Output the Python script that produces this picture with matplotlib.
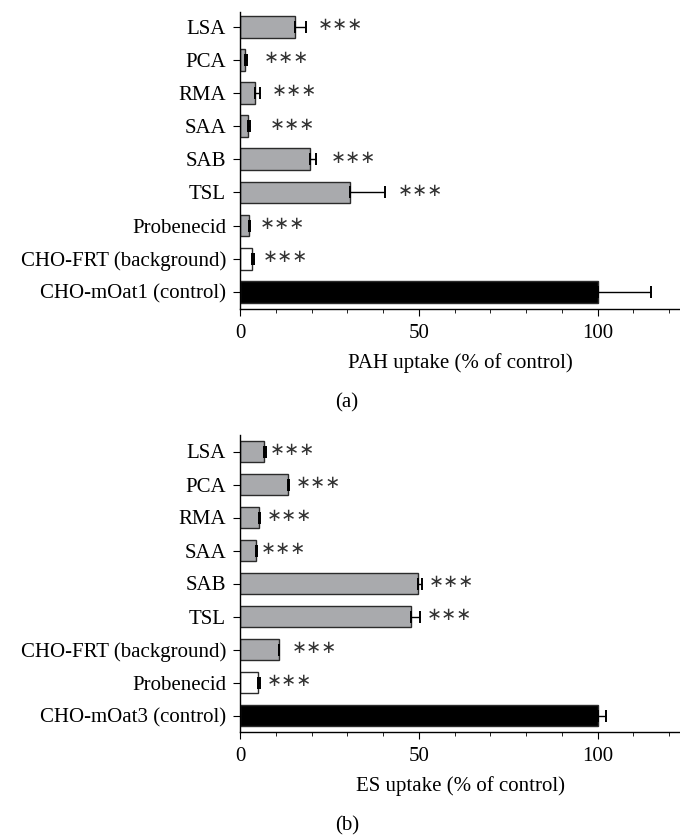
import matplotlib.pyplot as plt
from matplotlib.ticker import MultipleLocator

plt.rcParams['font.family'] = ['Liberation Serif', 'DejaVu Serif']

# panel (a): PAH uptake, mOat1
labels_a = ['LSA', 'PCA', 'RMA', 'SAA', 'SAB', 'TSL', 'Probenecid',
            'CHO-FRT (background)', 'CHO-mOat1 (control)']
vals_a = [15.5, 1.5, 4.3, 2.1, 19.6, 30.8, 2.4, 3.4, 100]
err_a = [2.9, 0.4, 1.3, 0.6, 1.7, 9.6, 0.4, 0.5, 15]
star_a = [21.6, 6.5, 8.9, 8.4, 25.4, 44.0, 5.6, 6.3, None]
col_a = ['#a9aaad'] * 7 + ['white', 'black']

# panel (b): ES uptake, mOat3
labels_b = ['LSA', 'PCA', 'RMA', 'SAA', 'SAB', 'TSL',
            'CHO-FRT (background)', 'Probenecid', 'CHO-mOat3 (control)']
vals_b = [6.8, 13.5, 5.2, 4.5, 49.8, 47.9, 10.8, 5.1, 100]
err_b = [0.4, 0.3, 0.4, 0.2, 1.1, 2.4, 0.2, 0.5, 2.3]
star_b = [8.4, 15.6, 7.6, 5.8, 52.8, 52.3, 14.6, 7.6, None]
col_b = ['#a9aaad'] * 7 + ['white', 'black']

fig = plt.figure(figsize=(6.8, 8.35), dpi=100)
ax1 = fig.add_axes([240/680, 1-309/835, 1-240/680, (309-12)/835])
ax2 = fig.add_axes([240/680, 1-732/835, 1-240/680, (732-435)/835])


def panel(ax, labels, vals, errs, stars, cols, xlabel, ylim):
    n = len(labels)
    pos = list(range(n - 1, -1, -1))
    ax.barh(pos, vals, height=0.66, color=cols, edgecolor='#2b2b2b', linewidth=1.0)
    ax.errorbar(vals, pos, xerr=[[0] * n, errs], fmt='none', ecolor='black',
                elinewidth=1.0, capsize=4, capthick=1.4)
    for p, s in zip(pos, stars):
        if s is not None:
            ax.text(s, p + 0.05, '∗∗∗', family='DejaVu Sans', fontsize=13,
                    color='#333333', va='center', ha='left')
    ax.set_yticks(pos)
    ax.set_yticklabels(labels, fontsize=15)
    ax.set_xlim(0, 123)
    ax.set_ylim(*ylim)
    ax.xaxis.set_major_locator(MultipleLocator(50))
    ax.xaxis.set_minor_locator(MultipleLocator(10))
    ax.tick_params(axis='x', which='major', length=5, labelsize=15, pad=6)
    ax.tick_params(axis='x', which='minor', length=3)
    ax.tick_params(axis='y', length=5, pad=5)
    for s in ['top', 'right']:
        ax.spines[s].set_visible(False)
    ax.spines['left'].set_linewidth(1.0)
    ax.spines['bottom'].set_linewidth(1.0)
    ax.set_xlabel(xlabel, fontsize=15, labelpad=7)


panel(ax1, labels_a, vals_a, err_a, star_a, col_a,
      'PAH uptake (% of control)', (-0.52, 8.45))
panel(ax2, labels_b, vals_b, err_b, star_b, col_b,
      'ES uptake (% of control)', (-0.5, 8.5))

fig.text(347/680, 1-403/835, '(a)', ha='center', va='center', fontsize=15)
fig.text(347/680, 1-826/835, '(b)', ha='center', va='center', fontsize=15)

fig.savefig('out.png', dpi=100)
